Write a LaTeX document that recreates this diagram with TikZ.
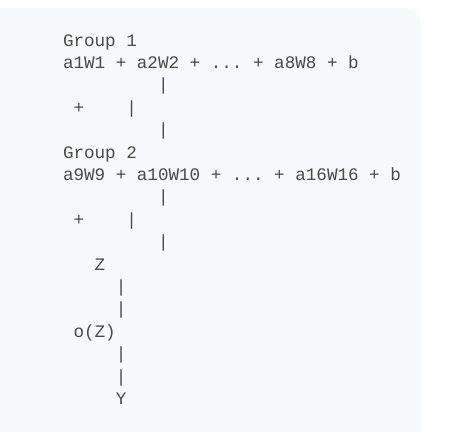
\documentclass[tikz,border=0pt]{standalone}
\usepackage{fontspec}
\setmonofont{Liberation Mono}
\definecolor{bgcol}{HTML}{F8F9FC}
\definecolor{txtcol}{HTML}{4A4A4A}
\newlength{\cw}\setlength{\cw}{10.56pt}
\begin{document}
\begin{tikzpicture}[x=1pt,y=-1pt,
  ln/.style={anchor=base west,inner sep=0pt,outer sep=0pt,text=txtcol,
    font=\ttfamily\fontsize{17.6pt}{22.4pt}\selectfont}]
\useasboundingbox (0,0) rectangle (457,431);
\fill[bgcol] (-20,460) -- (-20,8) [rounded corners=17pt] -- (421,8) [sharp corners] -- (421,460) -- cycle;
\def\xc#1{63+#1*10.56}
\def\yl#1{46+#1*22.4}
\node[ln] (g1) at ({\xc{0}},{\yl{0}}) {Group 1};
\node[ln] (s1) at ({\xc{0}},{\yl{1}}) {a1W1 + a2W2 + ... + a8W8 + b};
\node[ln] (v1a) at ({\xc{9}},{\yl{2}}) {|};
\node[ln] (p1) at ({\xc{1}},{\yl{3}}) {+};
\node[ln] (v1b) at ({\xc{6}},{\yl{3}}) {|};
\node[ln] (v1c) at ({\xc{9}},{\yl{4}}) {|};
\node[ln] (g2) at ({\xc{0}},{\yl{5}}) {Group 2};
\node[ln] (s2) at ({\xc{0}},{\yl{6}}) {a9W9 + a10W10 + ... + a16W16 + b};
\node[ln] (v2a) at ({\xc{9}},{\yl{7}}) {|};
\node[ln] (p2) at ({\xc{1}},{\yl{8}}) {+};
\node[ln] (v2b) at ({\xc{6}},{\yl{8}}) {|};
\node[ln] (v2c) at ({\xc{9}},{\yl{9}}) {|};
\node[ln] (z) at ({\xc{3}},{\yl{10}}) {Z};
\node[ln] (v3a) at ({\xc{5}},{\yl{11}}) {|};
\node[ln] (v3b) at ({\xc{5}},{\yl{12}}) {|};
\node[ln] (oz) at ({\xc{1}},{\yl{13}}) {o(Z)};
\node[ln] (v4a) at ({\xc{5}},{\yl{14}}) {|};
\node[ln] (v4b) at ({\xc{5}},{\yl{15}}) {|};
\node[ln] (yy) at ({\xc{5}},{\yl{16}}) {Y};
\end{tikzpicture}
\end{document}
